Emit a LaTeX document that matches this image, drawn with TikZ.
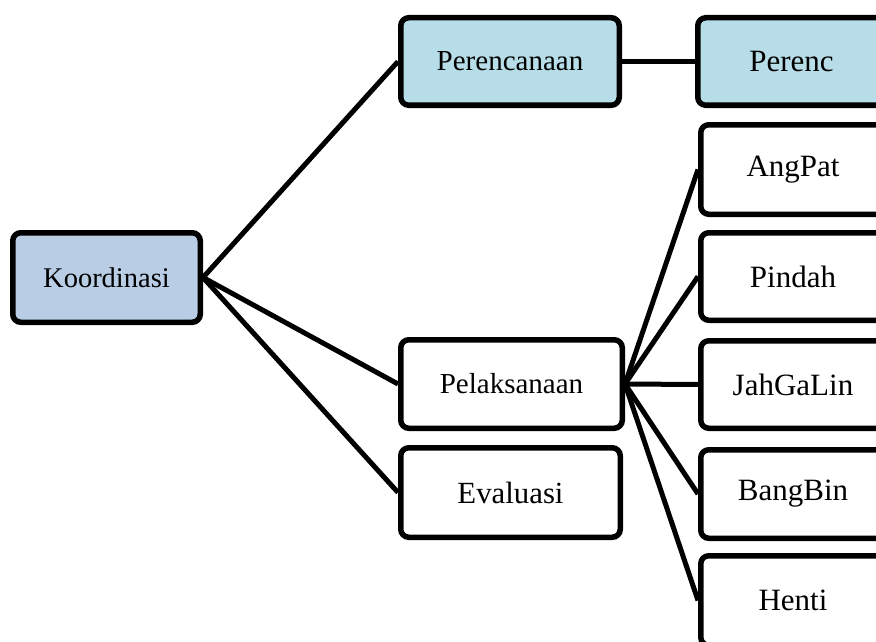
\documentclass[tikz,border=0pt]{standalone}
\usepackage{fontspec}
\setmainfont{Liberation Serif}
\definecolor{koordfill}{RGB}{185,205,229}
\definecolor{perfill}{RGB}{183,222,232}
\begin{document}
\begin{tikzpicture}[x=1pt,y=-1pt,
  box/.style={draw=black, line width=5.5pt, rounded corners=8pt, fill=white,
    inner sep=0pt, align=center, font=\fontsize{29}{34}\selectfont},
  rbox/.style={box, minimum width=184.5pt, minimum height=88.5pt, font=\fontsize{31}{36}\selectfont},
  link/.style={draw=black, line width=5pt}]
\useasboundingbox (0,0) rectangle (876,642);
\clip (0,0) rectangle (876,642);
\node[box, fill=koordfill, minimum width=187.5pt, minimum height=89.5pt, font=\fontsize{28.5}{34}\selectfont] (koord) at (106.5,277.5) {Koordinasi};
\node[box, fill=perfill, minimum width=218.5pt, minimum height=87.5pt] (perc) at (510,61.5) {Perencanaan};
\node[box, fill=perfill, minimum width=187.5pt, minimum height=87.5pt, font=\fontsize{31}{36}\selectfont] (perc2) at (791.5,61.5) {Perenc};
\node[box, minimum width=221.5pt, minimum height=88.5pt] (pel) at (511.5,384) {Pelaksanaan};
\node[box, minimum width=219.5pt, minimum height=89.5pt, font=\fontsize{30.8}{36}\selectfont] (eval) at (510.5,492.5) {Evaluasi};
\node[rbox, minimum height=89.5pt] (ang) at (793,169.5) {AngPat};
\node[rbox, minimum height=87.5pt] (pin) at (793,276.5) {Pindah};
\node[rbox, minimum height=87.5pt] (jah) at (793,384.5) {JahGaLin};
\node[rbox] (bang) at (793,494) {BangBin};
\node[rbox, minimum height=89.5pt] (hen) at (793,600.5) {Henti};
\draw[link] (koord.east) -- (perc.west);
\draw[link] (koord.east) -- (pel.west);
\draw[link] (koord.east) -- (eval.west);
\draw[link] (perc.east) -- (perc2.west);
\draw[link] (pel.east) -- (ang.west);
\draw[link] (pel.east) -- (pin.west);
\draw[link] (pel.east) -- (jah.west);
\draw[link] (pel.east) -- (bang.west);
\draw[link] (pel.east) -- (hen.west);
\end{tikzpicture}
\end{document}
